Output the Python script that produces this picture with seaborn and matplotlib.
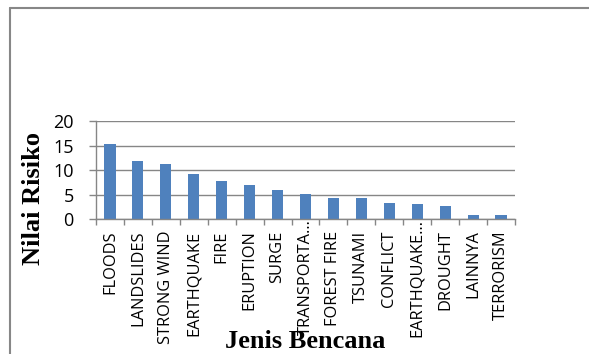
import matplotlib
matplotlib.use("Agg")
import matplotlib.pyplot as plt
from matplotlib.lines import Line2D
from matplotlib.transforms import ScaledTranslation
import seaborn as sns
import pandas as pd
import numpy as np

categories = ["FLOODS", "LANDSLIDES", "STRONG WIND", "EARTHQUAKE", "FIRE",
              "ERUPTION", "SURGE", "TRANSPORTA…", "FOREST FIRE", "TSUNAMI",
              "CONFLICT", "EARTHQUAKE…", "DROUGHT", "LAINNYA", "TERRORISM"]
values = [15.3, 11.8, 11.2, 9.2, 7.8, 7.0, 5.9, 5.1, 4.3, 4.3, 3.4, 3.1, 2.8, 0.9, 0.9]
yticks = [0, 5, 10, 15, 20]
xlabel = "Jenis Bencana"
ylabel = "Nilai Risiko"

W, H = 589, 354
sns.set_theme(style="white")
plt.rcParams["font.family"] = ["Open Sans", "DejaVu Sans"]
plt.rcParams["text.color"] = "black"
plt.rcParams["axes.labelcolor"] = "black"

fig = plt.figure(figsize=(W / 100, H / 100), dpi=100)
L, R, T, B = 96, 515, 121, 219.3
ax = fig.add_axes([L / W, 1 - B / H, (R - L) / W, (B - T) / H])

df = pd.DataFrame({"cat": categories, "val": values})
sns.barplot(data=df, x="cat", y="val", color="#4F81BD", width=0.4,
            saturation=1, linewidth=0, ax=ax)

gray = "#868686"
ax.set_xlim(-0.5, len(categories) - 0.5)
ax.set_ylim(0, 20)
ax.set_yticks(yticks)
ax.set_yticklabels([str(v) for v in yticks], fontsize=13)
ax.yaxis.grid(True, color=gray, linewidth=1.0)
ax.set_axisbelow(True)
for s in ["top", "right"]:
    ax.spines[s].set_visible(False)
for s in ["left", "bottom"]:
    ax.spines[s].set_color(gray)
    ax.spines[s].set_linewidth(1.0)

ax.set_xticks(np.arange(len(categories)))
ax.set_xticklabels(categories, rotation=90, fontsize=11.8)
ax.set_xticks(np.arange(-0.5, len(categories)), minor=True)
ax.tick_params(axis="x", which="major", length=0, pad=8, labelcolor="black")
ax.tick_params(axis="x", which="minor", length=4.5, color=gray, width=1.0, bottom=True)
ax.tick_params(axis="y", which="major", length=5, color=gray, width=1.0, pad=11,
               left=True, labelcolor="black")

# truncated labels: the ellipsis runs up toward the axis, as in the reference
shift = ScaledTranslation(0, 11 / 100, fig.dpi_scale_trans)
for lab in ax.get_xticklabels():
    if lab.get_text().endswith("…"):
        lab.set_transform(lab.get_transform() + shift)

ax.set_xlabel(xlabel, fontsize=19, fontweight="bold", family="Liberation Serif", color="black")
ax.xaxis.label.set_va("baseline")
ax.xaxis.set_label_coords(0.5, (B - 348) / (B - T))
ax.set_ylabel(ylabel, fontsize=19, fontweight="bold", family="Liberation Serif", color="black")
ax.yaxis.set_label_coords((45 - L) / (R - L), (B - 198.5) / (B - T))

# outer frame (chart area border)
fig.add_artist(Line2D([10 / W, 10 / W], [0, 1 - 8 / H], transform=fig.transFigure,
                      color="#878787", linewidth=1.5))
fig.add_artist(Line2D([10 / W, 1], [1 - 8 / H, 1 - 8 / H], transform=fig.transFigure,
                      color="#878787", linewidth=1.5))

fig.savefig("out.png", dpi=100, facecolor="white")
